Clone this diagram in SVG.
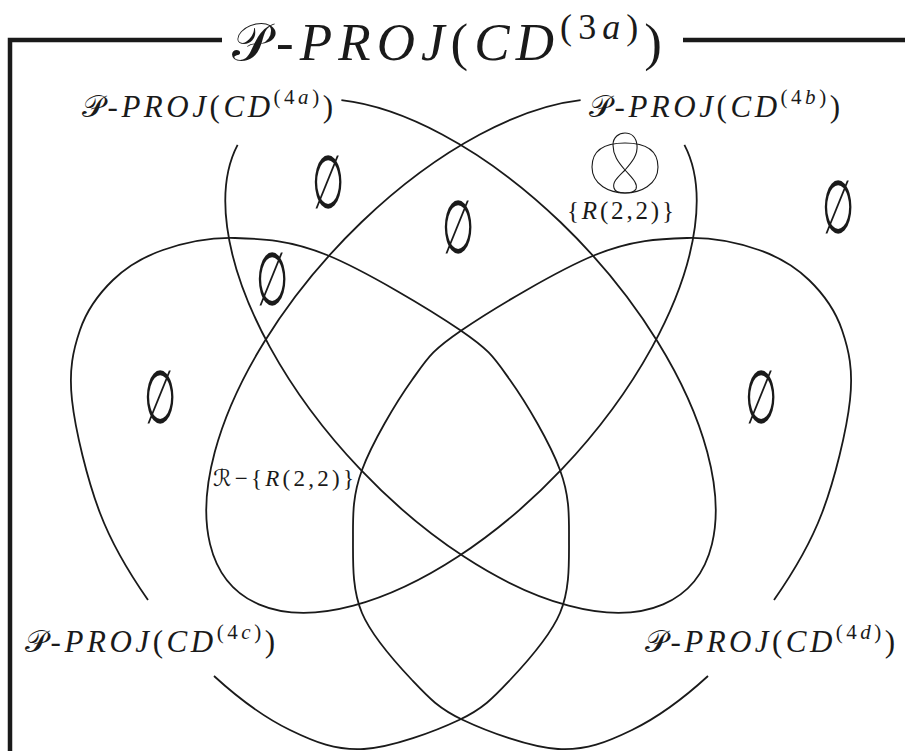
<svg xmlns="http://www.w3.org/2000/svg" width="905" height="751" viewBox="0 0 905 751">
<style>
.c{fill:none;stroke:#1a1a1a;stroke-width:1.8}
.f{fill:none;stroke:#1a1a1a;stroke-width:4.5}
.k{fill:none;stroke:#1a1a1a;stroke-width:1.1}
text{font-family:"Liberation Serif","DejaVu Serif",serif;fill:#1a1a1a}
.it{font-style:italic}
.cal{font-family:"DejaVu Sans","Noto Sans",sans-serif;font-style:normal}
.e{font-family:"DejaVu Sans",sans-serif;font-size:74px;text-anchor:middle}
</style>
<g id="frame">
<path class="f" d="M10,751 V40 H222 M683,40 H905"/>
<text x="232" y="60" font-size="53" textLength="430" lengthAdjust="spacing"><tspan class="cal">𝒫</tspan>-<tspan class="it">PROJ</tspan>(<tspan class="it">CD</tspan><tspan font-size="36" dy="-21">(3<tspan class="it">a</tspan>)</tspan><tspan dy="21">)</tspan></text>
</g>
<g id="set-4a">
<path class="c" d="M341.4,100.2 A318,158 47.2 1 1 237.6,144.8"/>
<text x="82" y="117" font-size="31" textLength="251" lengthAdjust="spacing"><tspan class="cal">𝒫</tspan>-<tspan class="it">PROJ</tspan>(<tspan class="it">CD</tspan><tspan font-size="21" dy="-13">(4<tspan class="it">a</tspan>)</tspan><tspan dy="13">)</tspan></text>
</g>
<g id="set-4b">
<path class="c" transform="matrix(-1,0,0,1,922,0)" d="M341.4,100.2 A318,158 47.2 1 1 237.6,144.8"/>
<text x="589" y="117" font-size="31" textLength="251" lengthAdjust="spacing"><tspan class="cal">𝒫</tspan>-<tspan class="it">PROJ</tspan>(<tspan class="it">CD</tspan><tspan font-size="21" dy="-13">(4<tspan class="it">b</tspan>)</tspan><tspan dy="13">)</tspan></text>
</g>
<g id="set-4c">
<path class="c" d="M214,676 C237.67,697.67 265,717.83 290,730 C315,742.17 335.83,750.67 364,749 C392.17,747.33 434.67,731.5 459,720 C483.33,708.5 493.17,697.83 510,680 C526.83,662.17 550.17,636.33 560,613 C569.83,589.67 569,563.83 569,540 C569,516.17 569.83,496.67 560,470 C550.17,443.33 526.67,403.33 510,380 C493.33,356.67 490.5,350.83 460,330 C429.5,309.17 364.5,270.33 327,255 C289.5,239.67 262.33,238.83 235,238 C207.67,237.17 183.33,243 163,250 C142.67,257 126.83,266.67 113,280 C99.17,293.33 86.83,310 80,330 C73.17,350 68.67,369.5 72,400 C75.33,430.5 87.33,479.67 100,513 C112.67,546.33 129,572.83 148,600"/>
<text x="25" y="652" font-size="31" textLength="250" lengthAdjust="spacing"><tspan class="cal">𝒫</tspan>-<tspan class="it">PROJ</tspan>(<tspan class="it">CD</tspan><tspan font-size="21" dy="-13">(4<tspan class="it">c</tspan>)</tspan><tspan dy="13">)</tspan></text>
</g>
<g id="set-4d">
<path class="c" transform="matrix(-1,0,0,1,922,0)" d="M214,676 C237.67,697.67 265,717.83 290,730 C315,742.17 335.83,750.67 364,749 C392.17,747.33 434.67,731.5 459,720 C483.33,708.5 493.17,697.83 510,680 C526.83,662.17 550.17,636.33 560,613 C569.83,589.67 569,563.83 569,540 C569,516.17 569.83,496.67 560,470 C550.17,443.33 526.67,403.33 510,380 C493.33,356.67 490.5,350.83 460,330 C429.5,309.17 364.5,270.33 327,255 C289.5,239.67 262.33,238.83 235,238 C207.67,237.17 183.33,243 163,250 C142.67,257 126.83,266.67 113,280 C99.17,293.33 86.83,310 80,330 C73.17,350 68.67,369.5 72,400 C75.33,430.5 87.33,479.67 100,513 C112.67,546.33 129,572.83 148,600"/>
<text x="645" y="652" font-size="31" textLength="250" lengthAdjust="spacing"><tspan class="cal">𝒫</tspan>-<tspan class="it">PROJ</tspan>(<tspan class="it">CD</tspan><tspan font-size="21" dy="-13">(4<tspan class="it">d</tspan>)</tspan><tspan dy="13">)</tspan></text>
</g>
<g id="empty-sets">
<text class="e" transform="translate(328,208) scale(0.5,1)">∅</text>
<text class="e" transform="translate(458,253) scale(0.5,1)">∅</text>
<text class="e" transform="translate(272,305) scale(0.5,1)">∅</text>
<text class="e" transform="translate(160,423) scale(0.5,1)">∅</text>
<text class="e" transform="translate(761,423) scale(0.5,1)">∅</text>
<text class="e" transform="translate(838,233) scale(0.5,1)">∅</text>
</g>
<g id="knot-region">
<path class="k" d="M625,193 C610,193 592,185 592,167 C592,150 605,143 625,143 C645,143 658,150 658,167 C658,185 640,193 625,193 Z"/>
<path class="k" d="M625,170 C632,162 638,155 637,145 C636,137 631,133 625,133 C619,133 613,137 613,145 C613,155 618,162 625,170 C632,178 638,183 636,189 C634,193 628,193 625,193 C621,193 615,192 614,188 C612,182 618,177 625,170 Z"/>
<text x="567" y="219" font-size="25" textLength="107" lengthAdjust="spacing">{<tspan class="it">R</tspan>(2,2)}</text>
</g>
<g id="complement">
<text x="213" y="486" font-size="23" textLength="141" lengthAdjust="spacing"><tspan class="cal">ℛ</tspan>−{<tspan class="it">R</tspan>(2,2)}</text>
</g>
</svg>
